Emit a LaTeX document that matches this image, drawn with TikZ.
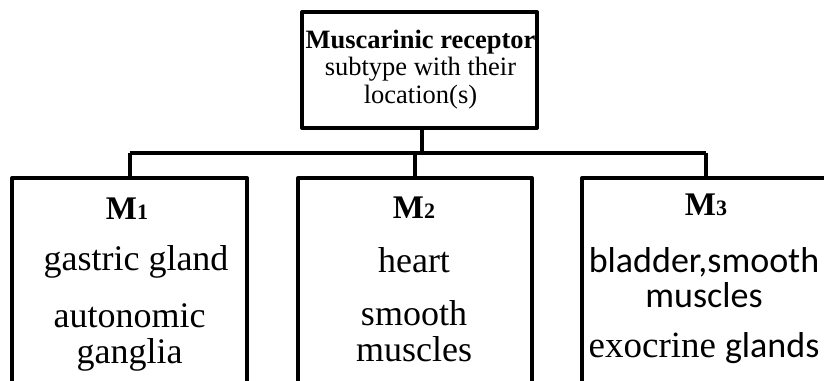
\documentclass[tikz,border=0pt]{standalone}
\usepackage{fontspec}
\setmainfont{Liberation Serif}
\newfontfamily\calib{Carlito}
\begin{document}
\begin{tikzpicture}[x=1pt,y=-1pt,
  box/.style={draw, line width=4pt, line join=round, inner sep=0pt, minimum width=235pt},
  link/.style={line width=4pt, line join=round},
  txt/.style={anchor=base, inner sep=0pt, align=center, font=\fontsize{36}{36}\selectfont},
  head/.style={anchor=base, inner sep=0pt, font=\fontsize{33}{33}\selectfont\bfseries},
  toptxt/.style={anchor=base, inner sep=0pt, align=center, font=\fontsize{26.5}{27.5}\selectfont}]
\useasboundingbox (0,0) rectangle (824,380);
\clip (0,0) rectangle (824,380);
% boxes
\node[box, minimum height=116pt] (top) at (419.5,70) {};
\node[box, minimum height=260pt] (m1) at (129.5,308) {};
\node[box, minimum height=260pt, minimum width=234pt] (m2) at (415,308) {};
\node[box, minimum height=260pt, minimum width=248pt] (m3) at (706,308) {};
% connectors
\coordinate (stem) at (422,153);
\draw[link] (top.south -| stem) -- (stem);
\draw[link] (m1.north |- stem) -- (m3.north |- stem);
\draw[link] (m1.north |- stem) -- (m1.north);
\draw[link] (m2.north |- stem) -- (m2.north);
\draw[link] (m3.north |- stem) -- (m3.north);
% top text (anchor at baseline of last line)
\node[toptxt] (t1) at (420.5,103) {\textbf{Muscarinic receptor}\\subtype with their\\location(s)};
% M1
\node[head] (h1) at (127,219) {M\fontsize{22}{22}\selectfont 1};
\node[txt] (a1) at (136,270) {gastric gland};
\node[txt] (a2) at (129.5,363) {autonomic\\ganglia};
% M2
\node[head] (h2) at (414,218) {M\fontsize{22}{22}\selectfont 2};
\node[txt] (b1) at (414,272) {heart};
\node[txt] (b2) at (414,361) {smooth\\muscles};
% M3
\node[head] (h3) at (706,215) {M\fontsize{22}{22}\selectfont 3};
\node[txt, font=\fontsize{36}{35}\selectfont\calib] (c1) at (704,307) {bladder,smooth\\muscles};
\node[txt] (c3) at (704,357) {{\fontsize{37}{37}\selectfont exocrine} {\calib glands}};
\end{tikzpicture}
\end{document}
